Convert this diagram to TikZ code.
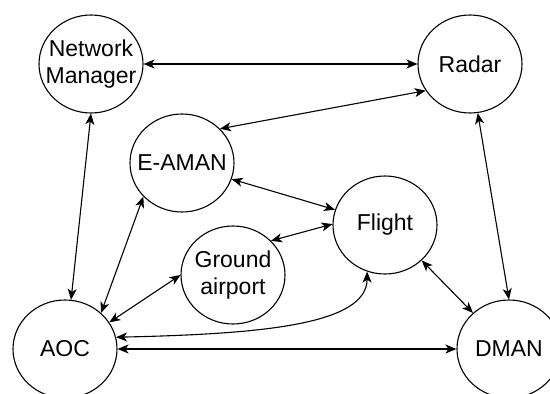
\documentclass[tikz,border=0pt]{standalone}
\usepackage{fontspec}
\setmainfont{Liberation Sans}
\usetikzlibrary{arrows.meta,shapes.geometric}
\begin{document}
\begin{tikzpicture}[x=1pt,y=-1pt,
  actor/.style={draw, ellipse, line width=1.1pt, inner sep=0pt,
    minimum width=104pt, minimum height=98pt},
  actortext/.style={align=center, font=\fontsize{23}{27}\selectfont},
  link/.style={line width=1.1pt, {Stealth[length=11pt,width=9pt,inset=3pt]}-{Stealth[length=11pt,width=9pt,inset=3pt]}}
]
\useasboundingbox (0,0) rectangle (550,394);

% actors
\node[actor, label={[actortext]center:Network\\Manager}] (nm) at (91,64) {};
\node[actor, label={[actortext]center:Radar}] (radar) at (470,64) {};
\node[actor, label={[actortext]center:E-AMAN}] (eaman) at (182,163) {};
\node[actor, label={[actortext]center:Flight}] (flight) at (385,225) {};
\node[actor, label={[actortext]center:Ground\\airport}] (ground) at (233,275) {};
\node[actor, label={[actortext]center:AOC}] (aoc) at (65,349) {};
\node[actor, label={[actortext]center:DMAN}] (dman) at (509,349) {};

% information exchanges
\draw[link] (nm) -- (radar);
\draw[link] (eaman.42) -- (radar.211);
\draw[link] (eaman.-18) -- (flight.163);
\draw[link] (ground.42) -- (flight.179);
\draw[link] (nm.-90) -- (aoc.83);
\draw[link] (aoc.45) -- (eaman.221);
\draw[link] (aoc.31) -- (ground.180);
\draw[link] (aoc.13) .. controls (260,334) and (367,325) .. (flight.249);
\draw[link] (aoc) -- (dman);
\draw[link] (radar.-81) -- (dman.90);
\draw[link] (flight.-44) -- (dman.135);
\end{tikzpicture}
\end{document}
